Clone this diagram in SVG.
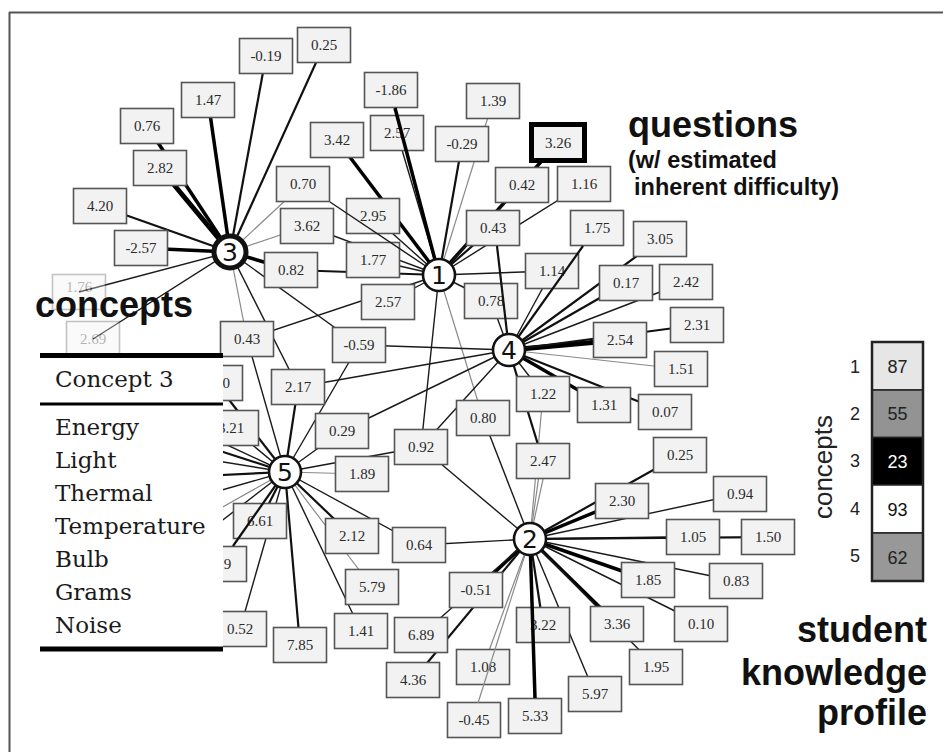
<svg xmlns="http://www.w3.org/2000/svg" width="943" height="752" viewBox="0 0 943 752">
<style>
.e1{stroke:#1a1a1a;stroke-width:1.4;fill:none}
.e2{stroke:#111;stroke-width:2.2;fill:none}
.e3{stroke:#000;stroke-width:3.5;fill:none}
.e4{stroke:#000;stroke-width:5;fill:none}
.eg{stroke:#8a8a8a;stroke-width:1.2;fill:none}
.q rect{fill:#f2f2f2;stroke:#555;stroke-width:1.6}
.q text{font-family:"Liberation Serif",serif;font-size:15px;fill:#2a2a2a;text-anchor:middle}
.fd{opacity:0.35}
.n circle{fill:#fff;stroke:#111;stroke-width:2.6}
.n text{font-family:"DejaVu Sans",sans-serif;font-size:25px;fill:#111;text-anchor:middle}
.lbl{font-family:"Liberation Sans",Arial,sans-serif;font-weight:bold;fill:#111}
.tbl{font-family:"DejaVu Serif",serif;font-size:23px;fill:#1a1a1a}
.pr rect{stroke:#222;stroke-width:1.5}
.pr text{font-family:"Liberation Sans",Arial,sans-serif;font-size:18px;text-anchor:middle}
.rl{font-family:"Liberation Sans",Arial,sans-serif;font-size:14px;fill:#222;text-anchor:middle}
</style>
<rect width="943" height="752" fill="#fff"/>
<g id="frame" stroke="#555" stroke-width="2" fill="none">
<line x1="9" y1="12.5" x2="943" y2="12.5"/>
<line x1="9.5" y1="12" x2="9.5" y2="752"/>
</g>
<g id="connectors">
<!-- concept 3 -->
<line class="e3" x1="230" y1="252" x2="208" y2="100"/>
<line class="e3" x1="230" y1="252" x2="147" y2="126"/>
<line class="e4" x1="230" y1="252" x2="160" y2="168"/>
<line class="e3" x1="230" y1="252" x2="141" y2="248"/>
<line class="e2" x1="230" y1="252" x2="266" y2="56"/>
<line class="e2" x1="230" y1="252" x2="324" y2="45"/>
<line class="e2" x1="230" y1="252" x2="100" y2="206"/>
<line class="e3" x1="230" y1="252" x2="291" y2="270"/>
<line class="e1" x1="230" y1="252" x2="79" y2="292"/>
<line class="e1" x1="230" y1="252" x2="93" y2="339"/>
<line class="e1" x1="230" y1="252" x2="359" y2="345"/>
<line class="e1" x1="230" y1="252" x2="298" y2="387"/>
<line class="eg" x1="230" y1="252" x2="303" y2="184"/>
<line class="eg" x1="230" y1="252" x2="307" y2="226"/>
<line class="eg" x1="230" y1="252" x2="247" y2="339"/>
<!-- concept 1 -->
<line class="e3" x1="439" y1="275" x2="337" y2="140"/>
<line class="e3" x1="439" y1="275" x2="558" y2="143"/>
<line class="e2" x1="439" y1="275" x2="462" y2="144"/>
<line class="e2" x1="439" y1="275" x2="493" y2="228"/>
<line class="e2" x1="439" y1="275" x2="291" y2="270"/>
<line class="e1" x1="439" y1="275" x2="397" y2="133"/>
<line class="e1" x1="439" y1="275" x2="373" y2="216"/>
<line class="e1" x1="439" y1="275" x2="373" y2="260"/>
<line class="e1" x1="439" y1="275" x2="552" y2="271"/>
<line class="e1" x1="439" y1="275" x2="388" y2="302"/>
<line class="e1" x1="439" y1="275" x2="247" y2="339"/>
<line class="e1" x1="439" y1="275" x2="491" y2="301"/>
<line class="e1" x1="439" y1="275" x2="421" y2="447"/>
<line class="e1" x1="439" y1="275" x2="307" y2="226"/>
<line class="e1" x1="439" y1="275" x2="584" y2="184"/>
<line class="e1" x1="439" y1="275" x2="522" y2="185"/>
<line class="eg" x1="439" y1="275" x2="493" y2="101"/>
<line class="eg" x1="439" y1="275" x2="483" y2="418"/>
<!-- concept 4 -->
<line class="e4" x1="509" y1="350" x2="620" y2="340"/>
<line class="e3" x1="509" y1="350" x2="604" y2="405"/>
<line class="e2" x1="509" y1="350" x2="626" y2="283"/>
<line class="e2" x1="509" y1="350" x2="697" y2="325"/>
<line class="e2" x1="509" y1="350" x2="665" y2="412"/>
<line class="e2" x1="509" y1="350" x2="543" y2="461"/>
<line class="e2" x1="509" y1="350" x2="660" y2="239"/>
<line class="e1" x1="509" y1="350" x2="686" y2="282"/>
<line class="e1" x1="509" y1="350" x2="543" y2="394"/>
<line class="e1" x1="509" y1="350" x2="552" y2="271"/>
<line class="e1" x1="509" y1="350" x2="359" y2="345"/>
<line class="e1" x1="509" y1="350" x2="298" y2="387"/>
<line class="e1" x1="509" y1="350" x2="342" y2="431"/>
<line class="e1" x1="509" y1="350" x2="421" y2="447"/>
<line class="e1" x1="509" y1="350" x2="491" y2="301"/>
<line class="eg" x1="509" y1="350" x2="681" y2="369"/>
<!-- concept 5 -->
<line class="e2" x1="285" y1="472" x2="298" y2="387"/>
<line class="e2" x1="285" y1="472" x2="216" y2="383"/>
<line class="e2" x1="285" y1="472" x2="260" y2="521"/>
<line class="e2" x1="285" y1="472" x2="352" y2="536"/>
<line class="e2" x1="285" y1="472" x2="300" y2="645"/>
<line class="e1" x1="285" y1="472" x2="247" y2="339"/>
<line class="e1" x1="285" y1="472" x2="232" y2="428"/>
<line class="e1" x1="285" y1="472" x2="240" y2="629"/>
<line class="e1" x1="285" y1="472" x2="361" y2="631"/>
<line class="e1" x1="285" y1="472" x2="419" y2="545"/>
<line class="e1" x1="285" y1="472" x2="342" y2="431"/>
<line class="e1" x1="285" y1="472" x2="359" y2="345"/>
<line class="e1" x1="285" y1="472" x2="421" y2="447"/>
<line class="eg" x1="285" y1="472" x2="372" y2="587"/>
<line class="eg" x1="285" y1="472" x2="362" y2="474"/>
<line class="e1" x1="285" y1="472" x2="180" y2="423"/>
<line class="e2" x1="285" y1="472" x2="180" y2="438"/>
<line class="e1" x1="285" y1="472" x2="180" y2="455"/>
<line class="e2" x1="285" y1="472" x2="180" y2="477"/>
<line class="e1" x1="285" y1="472" x2="180" y2="502"/>
<line class="eg" x1="285" y1="472" x2="180" y2="531"/>
<line class="e1" x1="285" y1="472" x2="180" y2="553"/>
<!-- concept 2 -->
<line class="e3" x1="530" y1="539" x2="476" y2="590"/>
<line class="e3" x1="530" y1="539" x2="648" y2="580"/>
<line class="e3" x1="530" y1="539" x2="617" y2="624"/>
<line class="e3" x1="530" y1="539" x2="622" y2="501"/>
<line class="e2" x1="530" y1="539" x2="693" y2="537"/>
<line class="e2" x1="530" y1="539" x2="768" y2="537"/>
<line class="e2" x1="530" y1="539" x2="413" y2="680"/>
<line class="e2" x1="530" y1="539" x2="543" y2="625"/>
<line class="e2" x1="530" y1="539" x2="680" y2="455"/>
<line class="e1" x1="530" y1="539" x2="483" y2="418"/>
<line class="e1" x1="530" y1="539" x2="421" y2="447"/>
<line class="e1" x1="530" y1="539" x2="740" y2="494"/>
<line class="e1" x1="530" y1="539" x2="736" y2="581"/>
<line class="e1" x1="530" y1="539" x2="701" y2="624"/>
<line class="e1" x1="530" y1="539" x2="656" y2="667"/>
<line class="e1" x1="530" y1="539" x2="595" y2="694"/>
<line class="e1" x1="530" y1="539" x2="421" y2="635"/>
<line class="e1" x1="530" y1="539" x2="419" y2="545"/>
<line class="eg" x1="530" y1="539" x2="541" y2="461"/>
<line class="eg" x1="530" y1="539" x2="547" y2="461"/>
<line class="eg" x1="530" y1="539" x2="543" y2="394"/>
<line class="eg" x1="530" y1="539" x2="483" y2="667"/>
</g>
<g id="questions">
<g id="q01" class="q"><rect x="239.5" y="38.5" width="53" height="35"/><text x="266" y="61">-0.19</text></g>
<g id="q02" class="q"><rect x="297.5" y="27.5" width="53" height="35"/><text x="324" y="50">0.25</text></g>
<g id="q03" class="q"><rect x="181.5" y="82.5" width="53" height="35"/><text x="208" y="105">1.47</text></g>
<g id="q04" class="q"><rect x="120.5" y="108.5" width="53" height="35"/><text x="147" y="131">0.76</text></g>
<g id="q05" class="q"><rect x="133.5" y="150.5" width="53" height="35"/><text x="160" y="173">2.82</text></g>
<g id="q06" class="q"><rect x="73.5" y="188.5" width="53" height="35"/><text x="100" y="211">4.20</text></g>
<g id="q07" class="q"><rect x="114.5" y="230.5" width="53" height="35"/><text x="141" y="253">-2.57</text></g>
<g id="q08" class="q"><rect x="276.5" y="166.5" width="53" height="35"/><text x="303" y="189">0.70</text></g>
<g id="q09" class="q"><rect x="280.5" y="208.5" width="53" height="35"/><text x="307" y="231">3.62</text></g>
<g id="q10" class="q"><rect x="364.5" y="72.5" width="53" height="35"/><text x="391" y="95">-1.86</text></g>
<g id="q11" class="q"><rect x="370.5" y="115.5" width="53" height="35"/><text x="397" y="138">2.57</text></g>
<g id="q12" class="q"><rect x="310.5" y="122.5" width="53" height="35"/><text x="337" y="145">3.42</text></g>
<g id="q13" class="q"><rect x="466.5" y="83.5" width="53" height="35"/><text x="493" y="106">1.39</text></g>
<g id="q14" class="q"><rect x="435.5" y="126.5" width="53" height="35"/><text x="462" y="149">-0.29</text></g>
<g id="q15" class="q"><rect x="531.5" y="124.5" width="53" height="36" style="stroke:#000;stroke-width:5"/><text x="558" y="148">3.26</text></g>
<g id="q16" class="q"><rect x="495.5" y="167.5" width="53" height="35"/><text x="522" y="190">0.42</text></g>
<g id="q17" class="q"><rect x="557.5" y="166.5" width="53" height="35"/><text x="584" y="189">1.16</text></g>
<g id="q18" class="q"><rect x="346.5" y="198.5" width="53" height="35"/><text x="373" y="221">2.95</text></g>
<g id="q19" class="q"><rect x="466.5" y="210.5" width="53" height="35"/><text x="493" y="233">0.43</text></g>
<g id="q20" class="q"><rect x="570.5" y="210.5" width="53" height="35"/><text x="597" y="233">1.75</text></g>
<g id="q21" class="q"><rect x="346.5" y="242.5" width="53" height="35"/><text x="373" y="265">1.77</text></g>
<g id="q22" class="q"><rect x="264.5" y="252.5" width="53" height="35"/><text x="291" y="275">0.82</text></g>
<g id="q23" class="q"><rect x="525.5" y="253.5" width="53" height="35"/><text x="552" y="276">1.14</text></g>
<g id="q24" class="q"><rect x="361.5" y="284.5" width="53" height="35"/><text x="388" y="307">2.57</text></g>
<g id="q25" class="q"><rect x="464.5" y="283.5" width="53" height="35"/><text x="491" y="306">0.78</text></g>
<g id="q26" class="q"><rect x="633.5" y="221.5" width="53" height="35"/><text x="660" y="244">3.05</text></g>
<g id="q27" class="q"><rect x="599.5" y="265.5" width="53" height="35"/><text x="626" y="288">0.17</text></g>
<g id="q28" class="q"><rect x="659.5" y="264.5" width="53" height="35"/><text x="686" y="287">2.42</text></g>
<g id="q29" class="q"><rect x="593.5" y="322.5" width="53" height="35"/><text x="620" y="345">2.54</text></g>
<g id="q30" class="q"><rect x="670.5" y="307.5" width="53" height="35"/><text x="697" y="330">2.31</text></g>
<g id="q31" class="q"><rect x="654.5" y="351.5" width="53" height="35"/><text x="681" y="374">1.51</text></g>
<g id="q32" class="q"><rect x="577.5" y="387.5" width="53" height="35"/><text x="604" y="410">1.31</text></g>
<g id="q33" class="q"><rect x="638.5" y="394.5" width="53" height="35"/><text x="665" y="417">0.07</text></g>
<g id="q34" class="q"><rect x="332.5" y="327.5" width="53" height="35"/><text x="359" y="350">-0.59</text></g>
<g id="q35" class="q"><rect x="516.5" y="376.5" width="53" height="35"/><text x="543" y="399">1.22</text></g>
<g id="q36" class="q"><rect x="456.5" y="400.5" width="53" height="35"/><text x="483" y="423">0.80</text></g>
<g id="q37" class="q"><rect x="315.5" y="413.5" width="53" height="35"/><text x="342" y="436">0.29</text></g>
<g id="q38" class="q"><rect x="394.5" y="429.5" width="53" height="35"/><text x="421" y="452">0.92</text></g>
<g id="q39" class="q"><rect x="516.5" y="443.5" width="53" height="35"/><text x="543" y="466">2.47</text></g>
<g id="q40" class="q"><rect x="335.5" y="456.5" width="53" height="35"/><text x="362" y="479">1.89</text></g>
<g id="q41" class="q"><rect x="271.5" y="369.5" width="53" height="35"/><text x="298" y="392">2.17</text></g>
<g id="q42" class="q"><rect x="220.5" y="321.5" width="53" height="35"/><text x="247" y="344">0.43</text></g>
<g id="q43" class="q"><rect x="653.5" y="437.5" width="53" height="35"/><text x="680" y="460">0.25</text></g>
<g id="q44" class="q"><rect x="595.5" y="483.5" width="53" height="35"/><text x="622" y="506">2.30</text></g>
<g id="q45" class="q"><rect x="713.5" y="476.5" width="53" height="35"/><text x="740" y="499">0.94</text></g>
<g id="q46" class="q"><rect x="666.5" y="519.5" width="53" height="35"/><text x="693" y="542">1.05</text></g>
<g id="q47" class="q"><rect x="741.5" y="519.5" width="53" height="35"/><text x="768" y="542">1.50</text></g>
<g id="q48" class="q"><rect x="621.5" y="562.5" width="53" height="35"/><text x="648" y="585">1.85</text></g>
<g id="q49" class="q"><rect x="709.5" y="563.5" width="53" height="35"/><text x="736" y="586">0.83</text></g>
<g id="q50" class="q"><rect x="674.5" y="606.5" width="53" height="35"/><text x="701" y="629">0.10</text></g>
<g id="q51" class="q"><rect x="590.5" y="606.5" width="53" height="35"/><text x="617" y="629">3.36</text></g>
<g id="q52" class="q"><rect x="629.5" y="649.5" width="53" height="35"/><text x="656" y="672">1.95</text></g>
<g id="q53" class="q"><rect x="568.5" y="676.5" width="53" height="35"/><text x="595" y="699">5.97</text></g>
<g id="q54" class="q"><rect x="516.5" y="607.5" width="53" height="35"/><text x="543" y="630">3.22</text></g>
<g id="q55" class="q"><rect x="508.5" y="698.5" width="53" height="35"/><text x="535" y="721">5.33</text></g>
<g id="q56" class="q"><rect x="456.5" y="649.5" width="53" height="35"/><text x="483" y="672">1.08</text></g>
<g id="q57" class="q"><rect x="447.5" y="702.5" width="53" height="35"/><text x="474" y="725">-0.45</text></g>
<g id="q58" class="q"><rect x="449.5" y="572.5" width="53" height="35"/><text x="476" y="595">-0.51</text></g>
<g id="q59" class="q"><rect x="394.5" y="617.5" width="53" height="35"/><text x="421" y="640">6.89</text></g>
<g id="q60" class="q"><rect x="386.5" y="662.5" width="53" height="35"/><text x="413" y="685">4.36</text></g>
<g id="q61" class="q"><rect x="392.5" y="527.5" width="53" height="35"/><text x="419" y="550">0.64</text></g>
<g id="q62" class="q"><rect x="325.5" y="518.5" width="53" height="35"/><text x="352" y="541">2.12</text></g>
<g id="q63" class="q"><rect x="345.5" y="569.5" width="53" height="35"/><text x="372" y="592">5.79</text></g>
<g id="q64" class="q"><rect x="334.5" y="613.5" width="53" height="35"/><text x="361" y="636">1.41</text></g>
<g id="q65" class="q"><rect x="273.5" y="627.5" width="53" height="35"/><text x="300" y="650">7.85</text></g>
<g id="q66" class="q"><rect x="233.5" y="503.5" width="53" height="35"/><text x="260" y="526">6.61</text></g>
<g id="q67" class="q"><rect x="213.5" y="611.5" width="53" height="35"/><text x="240" y="634">0.52</text></g>
<g id="q68" class="q"><rect x="193.5" y="546.5" width="53" height="35"/><text x="227.5" y="569">9</text></g>
<g id="q69" class="q"><rect x="205.5" y="410.5" width="53" height="35"/><text x="231" y="433">3.21</text></g>
<g id="q70" class="q"><rect x="189.5" y="365.5" width="53" height="35"/><text x="230" y="388" style="text-anchor:end">0</text></g>
<g id="q71" class="q fd"><rect x="52.5" y="274.5" width="53" height="35"/><text x="79" y="292">1.76</text></g>
<g id="q72" class="q fd"><rect x="66.5" y="321.5" width="53" height="35"/><text x="93" y="344">2.69</text></g>
</g>
<g id="connectors-front">
<line class="e3" x1="439" y1="275" x2="395" y2="108"/>
<line class="e1" x1="439" y1="275" x2="330" y2="202"/>
<line class="e2" x1="509" y1="350" x2="497" y2="246"/>
<line class="e2" x1="509" y1="350" x2="583" y2="246"/>
<line class="e3" x1="530" y1="539" x2="535" y2="698"/>
<line class="eg" x1="530" y1="539" x2="478" y2="703"/>
<line class="e2" x1="285" y1="472" x2="233" y2="546"/>
</g>
<g id="concept-3" class="n"><circle cx="230" cy="252" r="16" style="stroke-width:5"/><text x="230" y="261">3</text></g>
<g id="concept-1" class="n"><circle cx="439" cy="275" r="16"/><text x="439" y="284">1</text></g>
<g id="concept-4" class="n"><circle cx="509" cy="350" r="16"/><text x="509" y="359">4</text></g>
<g id="concept-5" class="n"><circle cx="285" cy="472" r="16"/><text x="285" y="481">5</text></g>
<g id="concept-2" class="n"><circle cx="530" cy="539" r="16"/><text x="530" y="548">2</text></g>
<g id="concept-table">
<rect x="40" y="353" width="183" height="297" fill="#fff"/>
<line x1="40" y1="355.5" x2="223" y2="355.5" stroke="#000" stroke-width="5"/>
<line x1="40" y1="404" x2="223" y2="404" stroke="#000" stroke-width="3"/>
<line x1="40" y1="649" x2="223" y2="649" stroke="#000" stroke-width="5"/>
<text class="tbl" x="55" y="387">Concept 3</text>
<text class="tbl" x="55" y="435">Energy</text>
<text class="tbl" x="55" y="468">Light</text>
<text class="tbl" x="55" y="501">Thermal</text>
<text class="tbl" x="55" y="534">Temperature</text>
<text class="tbl" x="55" y="567">Bulb</text>
<text class="tbl" x="55" y="600">Grams</text>
<text class="tbl" x="55" y="633">Noise</text>
</g>
<g id="labels">
<text class="lbl" x="35" y="317" font-size="36">concepts</text>
<text class="lbl" x="628" y="137" font-size="36">questions</text>
<text class="lbl" x="628" y="168" font-size="23.5">(w/ estimated</text>
<text class="lbl" x="634" y="195" font-size="23.5">inherent difficulty)</text>
<text class="lbl" x="927" y="642" font-size="36" text-anchor="end">student</text>
<text class="lbl" x="927" y="685" font-size="36" text-anchor="end">knowledge</text>
<text class="lbl" x="927" y="725" font-size="36" text-anchor="end">profile</text>
</g>
<g id="profile" class="pr">
<rect x="872" y="342" width="51" height="48" fill="#e6e6e6"/>
<rect x="872" y="390" width="51" height="47.5" fill="#939393"/>
<rect x="872" y="437.5" width="51" height="47.5" fill="#000"/>
<rect x="872" y="485" width="51" height="48" fill="#fff"/>
<rect x="872" y="533" width="51" height="48" fill="#989898"/>
<rect x="872" y="342" width="51" height="239" fill="none" style="stroke-width:2.5"/>
<text x="897.5" y="372.5" fill="#222">87</text>
<text x="897.5" y="420" fill="#222">55</text>
<text x="897.5" y="467.5" fill="#fff">23</text>
<text x="897.5" y="515.5" fill="#111">93</text>
<text x="897.5" y="563.5" fill="#222">62</text>
<text class="rl" x="855" y="373">1</text>
<text class="rl" x="855" y="420">2</text>
<text class="rl" x="855" y="467">3</text>
<text class="rl" x="855" y="515">4</text>
<text class="rl" x="855" y="562">5</text>
<text x="832" y="467" transform="rotate(-90 832 467)" style="font-size:26px;fill:#222;font-family:'Liberation Sans',Arial,sans-serif;text-anchor:middle">concepts</text>
</g>
</svg>
